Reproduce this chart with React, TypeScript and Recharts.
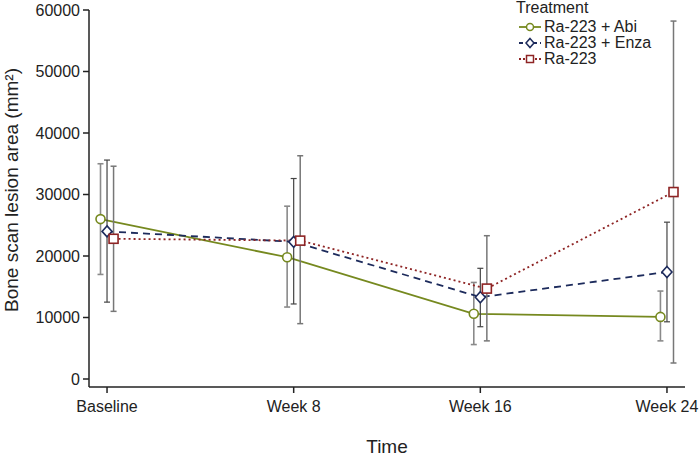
import { ErrorBar, Line, LineChart, XAxis, YAxis } from "recharts";

// weeks from baseline
const weeks = [0, 8, 16, 24];
const weekLabels = ["Baseline", "Week 8", "Week 16", "Week 24"];

// mean lesion area (mm²) and 95% CI bounds
const abiMean = [26000, 19800, 10600, 10100];
const abiLow = [17000, 11700, 5600, 6200];
const abiHigh = [35000, 28100, 15700, 14300];

const enzaMean = [24000, 22300, 13300, 17400];
const enzaLow = [12500, 12200, 8500, 9300];
const enzaHigh = [35600, 32600, 18000, 25500];

const raMean = [22800, 22500, 14700, 30400];
const raLow = [11000, 9000, 6200, 2600];
const raHigh = [34600, 36300, 23300, 58200];

const yTicks = [0, 10000, 20000, 30000, 40000, 50000, 60000];

const FONT = "'Liberation Sans', Arial, Helvetica, sans-serif";
const OLIVE = "#76891f";
const NAVY = "#1d2b5c";
const RED = "#8e2424";

// small horizontal dodge so the three groups don't overlap
const DODGE = 0.28;

const build = (mean: number[], lo: number[], hi: number[], shift: number) =>
  weeks.map((w, i) => ({
    x: w + shift,
    y: mean[i],
    err: [mean[i] - lo[i], hi[i] - mean[i]],
  }));

const abiData = build(abiMean, abiLow, abiHigh, -DODGE);
const enzaData = build(enzaMean, enzaLow, enzaHigh, 0);
const raData = build(raMean, raLow, raHigh, DODGE);

const CircleDot = (p: any) => (
  <circle key={p.index} cx={p.cx} cy={p.cy} r={4.5} fill="#fff" stroke={OLIVE} strokeWidth={1.6} />
);
const DiamondDot = (p: any) => (
  <path
    key={p.index}
    d={`M${p.cx},${p.cy - 5.5}L${p.cx + 5},${p.cy}L${p.cx},${p.cy + 5.5}L${p.cx - 5},${p.cy}Z`}
    fill="#fff"
    stroke={NAVY}
    strokeWidth={1.6}
  />
);
const SquareDot = (p: any) => (
  <rect key={p.index} x={p.cx - 4.5} y={p.cy - 4.5} width={9} height={9} fill="#fff" stroke={RED} strokeWidth={1.6} />
);

const legendItems = [
  { label: "Ra-223 + Abi", color: OLIVE, dash: undefined, shape: "circle" },
  { label: "Ra-223 + Enza", color: NAVY, dash: "4 3", shape: "diamond" },
  { label: "Ra-223", color: RED, dash: "2 2", shape: "square" },
];

function LegendBox() {
  return (
    <div
      style={{
        position: "absolute",
        left: 514,
        top: 0,
        fontFamily: FONT,
        fontSize: 16,
        color: "#222",
        lineHeight: "16px",
      }}
    >
      <div style={{ marginLeft: 2, marginBottom: 3 }}>Treatment</div>
      {legendItems.map((it) => (
        <div key={it.label} style={{ display: "flex", alignItems: "center", height: 16 }}>
          <svg width={26} height={14} style={{ marginLeft: 4 }}>
            <line x1={1} y1={7} x2={23} y2={7} stroke={it.color} strokeWidth={1.8} strokeDasharray={it.dash} />
            {it.shape === "circle" && <circle cx={12} cy={7} r={3.5} fill="#fff" stroke={it.color} strokeWidth={1.5} />}
            {it.shape === "diamond" && (
              <path d="M12,2.5L16,7L12,11.5L8,7Z" fill="#fff" stroke={it.color} strokeWidth={1.5} />
            )}
            {it.shape === "square" && <rect x={8.5} y={3.5} width={7} height={7} fill="#fff" stroke={it.color} strokeWidth={1.5} />}
          </svg>
          <span style={{ marginLeft: 0 }}>{it.label}</span>
        </div>
      ))}
    </div>
  );
}

const YTitle = () => (
  <text
    x={11}
    y={190}
    transform="rotate(-90, 11, 190)"
    textAnchor="middle"
    dominantBaseline="central"
    fontFamily={FONT}
    fontSize={19}
    fill="#222"
  >
    Bone scan lesion area (mm²)
  </text>
);

export default function App() {
  const tickStyle = { fontSize: 16, fill: "#222", fontFamily: FONT };
  return (
    <div style={{ position: "absolute", left: 0, top: 0, width: 700, height: 458, background: "#fff" }}>
      <LineChart width={700} height={458} margin={{ top: 10, right: 15, bottom: 0, left: 0 }}>
        <XAxis
          type="number"
          dataKey="x"
          domain={[-DODGE, 24 + DODGE]}
          ticks={weeks}
          padding={{ left: 11.5, right: 11.5 }}
          tickFormatter={(v: number) => weekLabels[weeks.indexOf(v)] ?? ""}
          tick={tickStyle}
          tickSize={6}
          tickMargin={8}
          stroke="#222"
          axisLine={{ stroke: "#222", strokeWidth: 1.5 }}
          tickLine={{ stroke: "#222", strokeWidth: 1.5 }}
          height={71}
          label={{ value: "Time", position: "insideBottom", offset: 5, fontSize: 19, fill: "#222", fontFamily: FONT }}
          allowDuplicatedCategory={false}
        />
        <YAxis
          type="number"
          domain={[0, 60000]}
          ticks={yTicks}
          width={89}
          padding={{ bottom: 8 }}
          tick={tickStyle}
          tickSize={6}
          tickMargin={3}
          stroke="#222"
          axisLine={{ stroke: "#222", strokeWidth: 1.5 }}
          tickLine={{ stroke: "#222", strokeWidth: 1.5 }}
          label={<YTitle />}
        />
        <Line
          data={abiData}
          dataKey="y"
          name="Ra-223 + Abi"
          stroke={OLIVE}
          strokeWidth={1.8}
          dot={CircleDot}
          activeDot={false}
          isAnimationActive={false}
        >
          <ErrorBar dataKey="err" direction="y" width={3} stroke="#8a8a8a" strokeWidth={1.6} />
        </Line>
        <Line
          data={enzaData}
          dataKey="y"
          name="Ra-223 + Enza"
          stroke={NAVY}
          strokeWidth={1.8}
          strokeDasharray="7 5"
          dot={DiamondDot}
          activeDot={false}
          isAnimationActive={false}
        >
          <ErrorBar dataKey="err" direction="y" width={3} stroke="#444" strokeWidth={1.2} />
        </Line>
        <Line
          data={raData}
          dataKey="y"
          name="Ra-223"
          stroke={RED}
          strokeWidth={1.8}
          strokeDasharray="2 3"
          dot={SquareDot}
          activeDot={false}
          isAnimationActive={false}
        >
          <ErrorBar dataKey="err" direction="y" width={3} stroke="#777" strokeWidth={1.5} />
        </Line>
      </LineChart>
      <LegendBox />
    </div>
  );
}
